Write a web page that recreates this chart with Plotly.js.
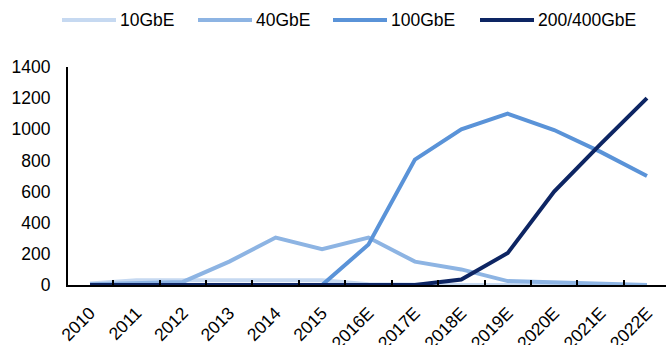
<!DOCTYPE html>
<html>
<head>
<meta charset="utf-8">
<script src="https://cdn.plot.ly/plotly-3.0.1.min.js"></script>
<style>html,body{margin:0;padding:0;background:#fff;}#chart{width:666px;height:345px;}</style>
</head>
<body>
<div id="chart"></div>
<script>
var years = ["2010","2011","2012","2013","2014","2015","2016E","2017E","2018E","2019E","2020E","2021E","2022E"];
var gbe10 = [10, 30, 30, 30, 30, 30, 5, 0, 0, 0, 0, 0, 0];
var gbe40 = [5, 15, 20, 150, 305, 230, 305, 150, 100, 25, 15, 5, 0];
var gbe100 = [0, 0, 0, 0, 0, 0, 260, 805, 1000, 1100, 995, 855, 700];
var gbe200400 = [0, 0, 0, 0, 0, 0, 0, 0, 35, 205, 600, 905, 1200];

var names = ["10GbE", "40GbE", "100GbE", "200/400GbE"];
var colors = ["#c6d9f1", "#8db4e3", "#5a93d8", "#0d2563"];
var series = [gbe10, gbe40, gbe100, gbe200400];

var traces = series.map(function (s, i) {
  return {
    x: years, y: s, name: names[i], type: "scatter", mode: "lines",
    line: {color: colors[i], width: 4}, cliponaxis: false
  };
});

// custom legend (pixel layout converted to paper coords)
var W = 666, H = 345, mL = 68, mR = 0, mT = 67, mB = 60;
var pw = W - mL - mR, ph = H - mT - mB;
function px(x) { return (x - mL) / pw; }
function py(y) { return (H - mB - y) / ph; }
var legLineX = [62, 198, 333, 480];
var legLineLen = 54;
var legY = 20;
var shapes = [], annotations = [];
names.forEach(function (n, i) {
  shapes.push({type: "line", xref: "paper", yref: "paper",
    x0: px(legLineX[i]), x1: px(legLineX[i] + legLineLen), y0: py(legY), y1: py(legY),
    line: {color: colors[i], width: 4}});
  annotations.push({xref: "paper", yref: "paper", x: px(legLineX[i] + legLineLen + 2), y: py(legY),
    xanchor: "left", yanchor: "middle", text: n, showarrow: false,
    font: {size: 17.5, color: "#000"}});
});

var layout = {
  width: W, height: H,
  margin: {l: mL, r: mR, t: mT, b: mB},
  paper_bgcolor: "#fff", plot_bgcolor: "#fff",
  font: {family: "Liberation Sans, Arial, sans-serif", size: 17.5, color: "#000"},
  showlegend: false,
  shapes: shapes, annotations: annotations,
  xaxis: {
    type: "category", range: [-0.474, 12.41],
    showline: true, linecolor: "#000", linewidth: 2,
    ticks: "inside", ticklen: 5, tickwidth: 2, tickcolor: "#000",
    tickson: "boundaries", tickangle: -45, showgrid: false, zeroline: false,
    ticklabelstandoff: 9
  },
  yaxis: {
    range: [0, 1400], dtick: 200, tick0: 0,
    showline: true, linecolor: "#000", linewidth: 2,
    ticks: "", showgrid: false, zeroline: false, ticklabelstandoff: 12
  }
};

Plotly.newPlot("chart", traces, layout, {displayModeBar: false, staticPlot: true});
</script>
</body>
</html>
